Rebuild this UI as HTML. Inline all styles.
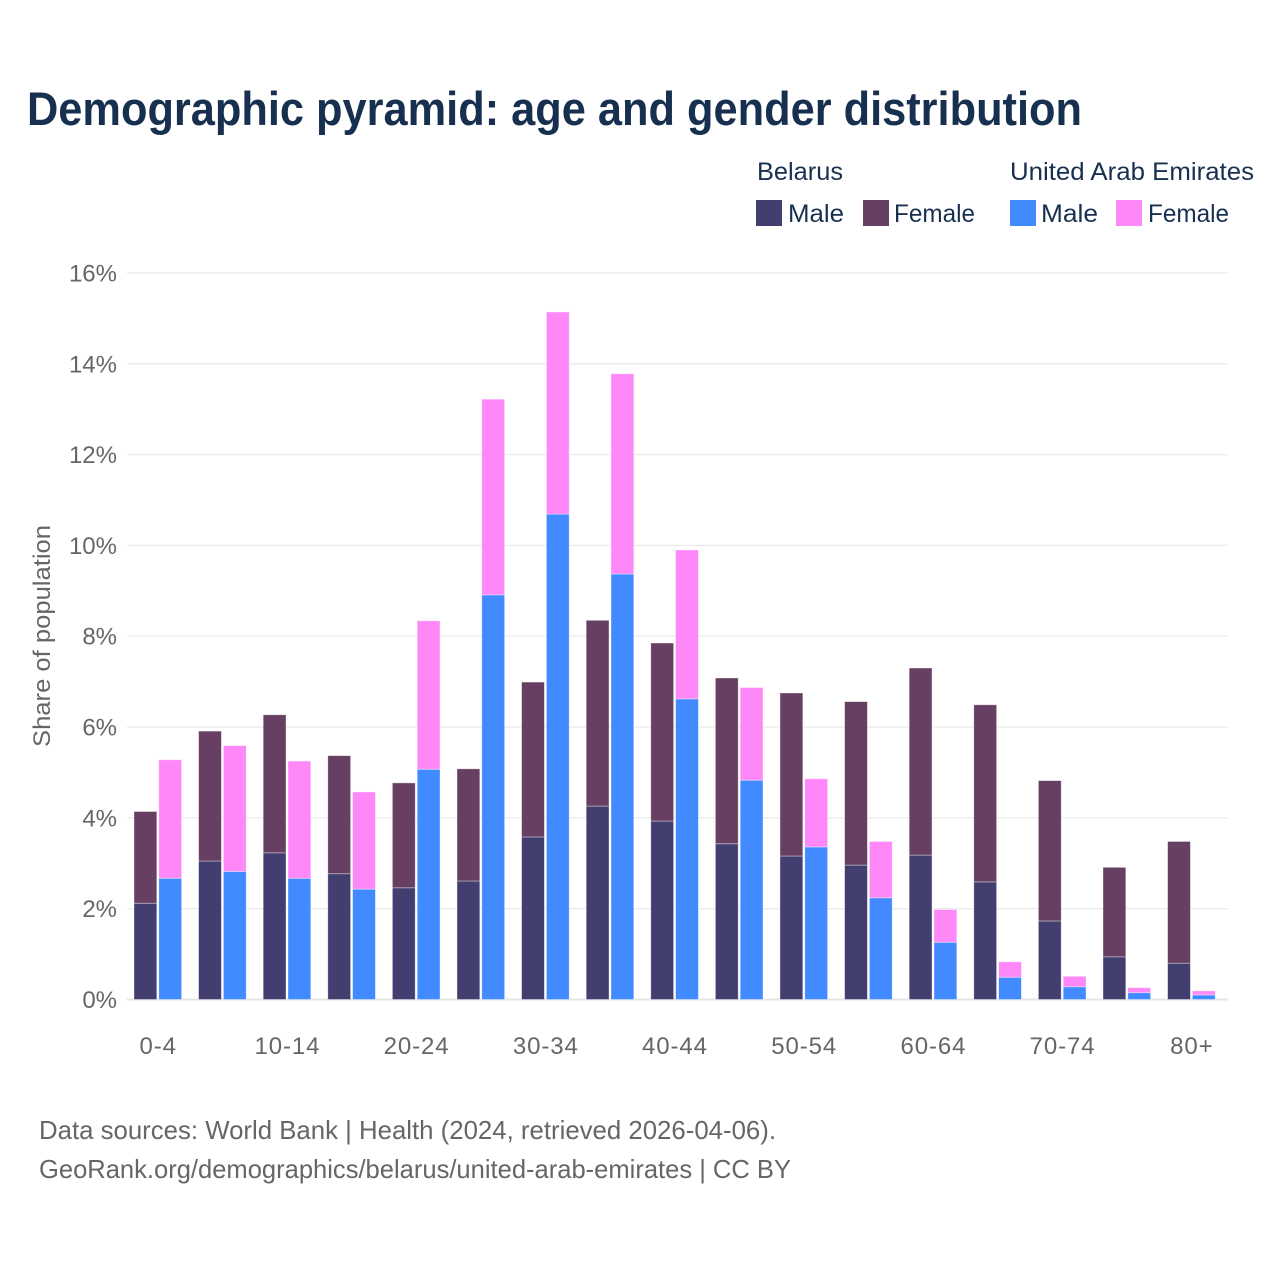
<!DOCTYPE html>
<html lang="en">
<head>
<meta charset="utf-8">
<title>Demographic pyramid: age and gender distribution</title>
<style>
html,body{margin:0;padding:0;background:#fff;width:1280px;height:1280px;overflow:hidden}
svg{display:block;font-family:"Liberation Sans",sans-serif}
</style>
</head>
<body>
<svg id="chart" xmlns="http://www.w3.org/2000/svg" width="1280" height="1280" viewBox="0 0 1280 1280">
  <rect x="0" y="0" width="1280" height="1280" fill="#fff"/>
  <text x="27" y="125" font-size="47" font-weight="700" fill="#18304f" textLength="1055" lengthAdjust="spacingAndGlyphs">Demographic pyramid: age and gender distribution</text>

  <g font-size="25" fill="#18304f">
    <text x="757" y="180" textLength="86" lengthAdjust="spacingAndGlyphs">Belarus</text>
    <text x="1010" y="180" textLength="244" lengthAdjust="spacingAndGlyphs">United Arab Emirates</text>
    <rect x="756" y="200" width="26" height="26" fill="#433e70"/>
    <text x="788" y="222" textLength="56" lengthAdjust="spacingAndGlyphs">Male</text>
    <rect x="863" y="200" width="26" height="26" fill="#663f62"/>
    <text x="894" y="222" textLength="81" lengthAdjust="spacingAndGlyphs">Female</text>
    <rect x="1010" y="200" width="26" height="26" fill="#428aff"/>
    <text x="1041" y="222" textLength="57" lengthAdjust="spacingAndGlyphs">Male</text>
    <rect x="1116" y="200" width="26" height="26" fill="#ff88f9"/>
    <text x="1148" y="222" textLength="81" lengthAdjust="spacingAndGlyphs">Female</text>
  </g>

  <g id="grid"></g>
  <g id="ylabels"></g>
  <g id="bars"></g>
  <g id="xlabels"></g>

  <text transform="translate(50,636) rotate(-90)" text-anchor="middle" font-size="24" fill="#666" textLength="222" lengthAdjust="spacingAndGlyphs">Share of population</text>

  <text x="39" y="1139" font-size="26" fill="#666" textLength="737" lengthAdjust="spacingAndGlyphs">Data sources: World Bank | Health (2024, retrieved 2026-04-06).</text>
  <text x="39" y="1178" font-size="26" fill="#666" textLength="752" lengthAdjust="spacingAndGlyphs">GeoRank.org/demographics/belarus/united-arab-emirates | CC BY</text>
</svg>
<script>
const categories = ["0-4","5-9","10-14","15-19","20-24","25-29","30-34","35-39","40-44","45-49","50-54","55-59","60-64","65-69","70-74","75-79","80+"];
const belarusMale = [2.12,3.05,3.23,2.77,2.46,2.61,3.58,4.26,3.93,3.43,3.16,2.96,3.18,2.59,1.73,0.94,0.80];
const belarusFemale = [2.02,2.86,3.04,2.60,2.31,2.47,3.41,4.09,3.92,3.65,3.59,3.60,4.12,3.90,3.09,1.97,2.68];
const uaeMale = [2.67,2.82,2.67,2.43,5.07,8.91,10.69,9.37,6.62,4.83,3.36,2.24,1.26,0.49,0.28,0.15,0.10];
const uaeFemale = [2.61,2.77,2.58,2.14,3.27,4.31,4.45,4.41,3.28,2.04,1.50,1.24,0.72,0.34,0.23,0.11,0.09];
const yTicks = [0,2,4,6,8,10,12,14,16];

const NS = "http://www.w3.org/2000/svg";
const colors = {bm:"#433e70", bf:"#663f62", um:"#428aff", uf:"#ff88f9"};
const yScale = v => 999.5 - v * 45.41;
const xCenter = i => 157.8 + i * 64.6;
const barW = 22.8, gap = 2;

function mk(tag, parent, attrs) {
  const el = document.createElementNS(NS, tag);
  for (const k in attrs) el.setAttribute(k, attrs[k]);
  parent.appendChild(el);
  return el;
}

const grid = document.getElementById("grid");
const ylabels = document.getElementById("ylabels");
yTicks.forEach(t => {
  const line = mk("line", grid, {x1:127, x2:1228, y1:yScale(t), y2:yScale(t), stroke: t === 0 ? "#e6e6e6" : "#ececec", "stroke-width": t === 0 ? 2 : 1.4});
  
  
  const lab = mk("text", ylabels, {x:117, y:yScale(t)+8.5, "text-anchor":"end", "font-size":24, fill:"#666"});
  lab.textContent = t + "%";
  
  
});

const bars = document.getElementById("bars");
function stacked(x, lower, upper, cLow, cUp) {
  const y0 = yScale(0), y1 = yScale(lower), y2 = yScale(lower + upper);
  const a = mk("rect", bars, {x:x, y:y1, width:barW, height:y0-y1, fill:cLow, stroke:"#fff", "stroke-opacity":0.45, "stroke-width":0.8});
  
  
  const b = mk("rect", bars, {x:x, y:y2, width:barW, height:y1-y2, fill:cUp, stroke:"#fff", "stroke-opacity":0.45, "stroke-width":0.8});
  
  
}
const xlabels = document.getElementById("xlabels");
categories.forEach((c, i) => {
  const cx = xCenter(i);
  stacked(cx - barW - gap/2, belarusMale[i], belarusFemale[i], colors.bm, colors.bf);
  stacked(cx + gap/2, uaeMale[i], uaeFemale[i], colors.um, colors.uf);
  if (i % 2 === 0) {
    const lab = mk("text", xlabels, {x:cx + 0.4, y:1054, "text-anchor":"middle", "font-size":24, "letter-spacing":0.9, fill:"#666"});
    lab.textContent = c;
    
    
  }
});
</script>
</body>
</html>
